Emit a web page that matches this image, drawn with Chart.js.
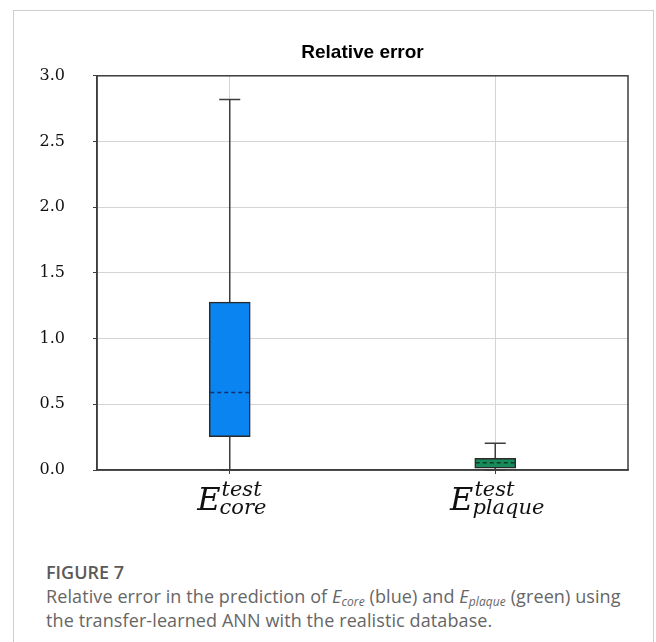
<!DOCTYPE html>
<html>
<head>
<meta charset="utf-8">
<script src="https://cdn.jsdelivr.net/npm/chart.js@4.4.1/dist/chart.umd.min.js"></script>
<style>
  html, body { margin: 0; padding: 0; background: #fff; }
  body { width: 656px; height: 642px; position: relative; overflow: hidden; }
  .card { position: absolute; left: 13px; top: 10px; width: 641px; height: 700px;
          border: 1px solid #cfcfcf; box-sizing: border-box; }
  #wrap { position: absolute; left: 0; top: 0; width: 656px; height: 540px; }
  .caption { position: absolute; left: 46px; top: 560px; width: 584px;
             font-family: "Open Sans", sans-serif; color: #666; }
  .caption .fig { font-size: 18px; font-weight: 600; color: #5a5a5a; line-height: 24px; }
  .caption .txt { font-size: 18px; line-height: 24px; font-weight: 400; letter-spacing: 0.1px; }
  .caption i { font-style: italic; }
  .caption sub { font-size: 12px; vertical-align: -3px; line-height: 0; }
</style>
</head>
<body>
<div class="card"></div>
<div id="wrap"><canvas id="chart"></canvas></div>
<div class="caption">
  <div class="fig">FIGURE 7</div>
  <div class="txt">Relative error in the prediction of <i>E<sub>core</sub></i> (blue) and <i>E<sub>plaque</sub></i> (green) using the transfer-learned ANN with the realistic database.</div>
</div>
<script>
// Box-plot statistics for the relative error of each modulus
const categories = ['core', 'plaque'];
const whiskerMin = [0.0, 0.0];
const quartile1  = [0.254, 0.013];
const medians    = [0.59, 0.056];
const quartile3  = [1.277, 0.089];
const whiskerMax = [2.82, 0.204];
const yTicks     = [0, 0.5, 1.0, 1.5, 2.0, 2.5, 3.0];
const boxColors  = ['#0a84f0', '#178b5b'];
const medianColors = ['#14306e', '#0d3b27'];

const lineDark = '#3d3d3d';

// whiskers and caps under the boxes, dashed medians on top, then frame and category labels
const boxPlotPlugin = {
  id: 'boxPlotParts',
  beforeDatasetsDraw(chart) {
    const { ctx, scales: { x, y } } = chart;
    ctx.save();
    ctx.strokeStyle = lineDark;
    ctx.lineWidth = 1.5;
    categories.forEach((c, i) => {
      const cx = x.getPixelForValue(i);
      const capHalf = 10.5;
      ctx.beginPath();
      ctx.moveTo(cx, y.getPixelForValue(whiskerMin[i]));
      ctx.lineTo(cx, y.getPixelForValue(whiskerMax[i]));
      ctx.stroke();
      ctx.beginPath();
      ctx.moveTo(cx - capHalf, y.getPixelForValue(whiskerMax[i]));
      ctx.lineTo(cx + capHalf, y.getPixelForValue(whiskerMax[i]));
      ctx.moveTo(cx - capHalf, y.getPixelForValue(whiskerMin[i]));
      ctx.lineTo(cx + capHalf, y.getPixelForValue(whiskerMin[i]));
      ctx.stroke();
    });
    ctx.restore();
  },
  afterDatasetsDraw(chart) {
    const { ctx, scales: { x, y } } = chart;
    const meta = chart.getDatasetMeta(0);
    ctx.save();
    ctx.lineWidth = 1.5;
    ctx.setLineDash([4, 3]);
    categories.forEach((c, i) => {
      const half = meta.data[i].width / 2;
      const cx = x.getPixelForValue(i);
      const my = y.getPixelForValue(medians[i]);
      ctx.strokeStyle = medianColors[i];
      ctx.beginPath();
      ctx.moveTo(cx - half + 1, my);
      ctx.lineTo(cx + half - 1, my);
      ctx.stroke();
    });
    ctx.restore();
  },
  afterDraw(chart) {
    const { ctx, chartArea: a, scales: { x } } = chart;
    ctx.save();
    ctx.strokeStyle = lineDark;
    ctx.lineWidth = 1.5;
    ctx.strokeRect(a.left, a.top, a.right - a.left, a.bottom - a.top);
    // category labels: E with superscript "test" and the modulus name as subscript
    ctx.fillStyle = '#111';
    ctx.textBaseline = 'alphabetic';
    ctx.textAlign = 'left';
    categories.forEach((c, i) => {
      const cx = x.getPixelForValue(i);
      ctx.font = 'italic 32px "DejaVu Serif"';
      const eW = ctx.measureText('E').width;
      ctx.font = 'italic 21px "DejaVu Serif"';
      const supW = ctx.measureText('test').width;
      const subW = ctx.measureText(c).width;
      const total = eW + Math.max(supW, subW) + 1;
      const left = cx - total / 2 + 3;
      ctx.font = 'italic 32px "DejaVu Serif"';
      ctx.fillText('E', left, 510);
      ctx.font = 'italic 21px "DejaVu Serif"';
      ctx.fillText('test', left + eW + 1, 496);
      ctx.fillText(c, left + eW - 1, 514);
    });
    ctx.restore();
  }
};

new Chart(document.getElementById('chart'), {
  type: 'bar',
  data: {
    labels: categories,
    datasets: [{
      data: categories.map((c, i) => [quartile1[i], quartile3[i]]),
      backgroundColor: boxColors,
      borderColor: '#2a2a2a',
      borderWidth: 1.5,
      borderSkipped: false,
      barThickness: 41
    }]
  },
  options: {
    responsive: true,
    maintainAspectRatio: false,
    animation: false,
    layout: { padding: { left: 37, right: 28, top: 0, bottom: 0 } },
    plugins: {
      legend: { display: false },
      tooltip: { enabled: false },
      title: {
        display: true,
        text: 'Relative error',
        fullSize: false,
        color: '#000',
        font: { family: '"Liberation Sans", Arial, sans-serif', size: 19, weight: 'bold' },
        padding: { top: 41, bottom: 12 }
      }
    },
    scales: {
      x: {
        offset: true,
        grid: { offset: false, color: '#d4d4d4', lineWidth: 1, drawTicks: true, tickLength: 4, tickColor: lineDark },
        border: { display: true, color: lineDark, width: 1.5 },
        ticks: { display: false },
        afterFit(s) { s.height = 70; }
      },
      y: {
        min: 0,
        max: 3,
        afterBuildTicks(s) { s.ticks = yTicks.map(v => ({ value: v })); },
        grid: { color: '#d4d4d4', lineWidth: 1, drawTicks: true, tickLength: 4, tickColor: lineDark },
        border: { display: true, color: lineDark, width: 1.5 },
        ticks: {
          padding: 28,
          color: '#111',
          font: { family: '"DejaVu Serif", serif', size: 16 },
          callback: v => Number(v).toFixed(1)
        },
        afterFit(s) { s.width = 60; }
      }
    }
  },
  plugins: [boxPlotPlugin]
});
</script>
</body>
</html>
